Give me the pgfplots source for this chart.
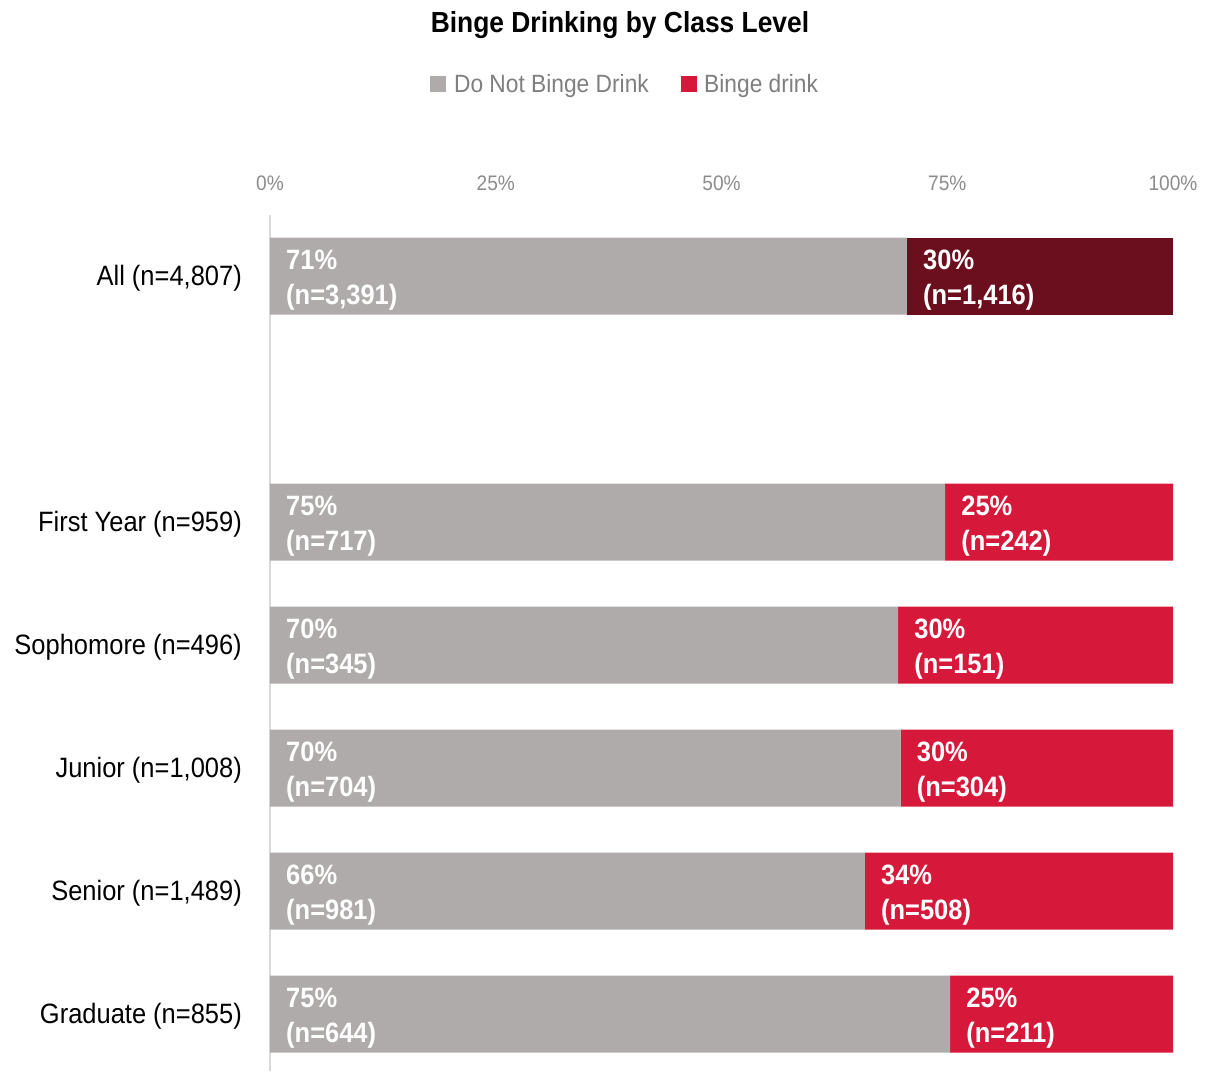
\documentclass[border=0pt]{standalone}
\usepackage{pgfplots}
\pgfplotsset{compat=1.18}
\usepackage{fontspec}
\setmainfont{Liberation Sans}[FakeStretch=0.91]
\definecolor{cgray}{HTML}{AFABAA}
\definecolor{cred}{HTML}{D6193A}
\definecolor{cdark}{HTML}{6B0E1E}
\definecolor{ctick}{HTML}{8C8C8C}
\definecolor{clegend}{HTML}{7F7F7F}
\definecolor{caxis}{HTML}{D9D9D9}
\begin{document}
\begin{tikzpicture}
\path[use as bounding box] (-270pt,0pt) rectangle (936pt,1071pt);
\begin{axis}[
  at={(0pt,0pt)}, anchor=south west, scale only axis,
  width=903pt, height=856pt,
  xmin=0, xmax=100, ymin=-0.463, ymax=6.496,
  axis x line*=top, axis y line*=left,
  x axis line style={draw=none},
  y axis line style={draw=caxis, line width=1.5pt},
  major tick length=0pt,
  xtick={0,25,50,75,100},
  xticklabels={0\%,25\%,50\%,75\%,100\%},
  xticklabel style={font=\fontsize{21}{25}\selectfont, text=ctick, anchor=base, yshift=24pt},
  ytick={0,1,2,3,4,6},
  yticklabels={{Graduate (n=855)},{Senior (n=1,489)},{Junior (n=1,008)},{Sophomore (n=496)},{First Year (n=959)},{All (n=4,807)}},
  yticklabel style={font=\fontsize{28}{34}\selectfont, anchor=east, inner sep=0pt, xshift=-28pt, yshift=-2.5pt},
  xbar stacked, bar width=77pt,
  legend style={at={(0.393,1.153)}, anchor=center, draw=none, fill=none,
    font=\fontsize{25}{30}\selectfont, text=clegend,
    /tikz/every even column/.append style={column sep=30pt}},
  legend columns=2,
  clip=false,
]
\addlegendimage{legend image code/.code={\fill[cgray] (0pt,-7.5pt) rectangle (15pt,7.5pt); \path (22pt,0pt);}}
\addlegendentry{Do Not Binge Drink}
\addlegendimage{legend image code/.code={\fill[cred] (0pt,-7.5pt) rectangle (15pt,7.5pt); \path (21pt,0pt);}}
\addlegendentry{Binge drink}
% Do Not Binge Drink
\addplot[fill=cgray, draw=none, forget plot] coordinates {(75.32,0) (65.88,1) (69.84,2) (69.56,3) (74.77,4) (70.54,6)};
% Binge drink
\addplot[fill=cred, draw=none, forget plot] coordinates {(24.68,0) (34.12,1) (30.16,2) (30.44,3) (25.23,4) (0,6)};
% Binge drink, All
\addplot[fill=cdark, draw=none, forget plot] coordinates {(0,0) (0,1) (0,2) (0,3) (0,4) (29.46,6)};
\end{axis}
\begin{axis}[
  at={(0pt,0pt)}, anchor=south west, scale only axis,
  width=903pt, height=856pt,
  xmin=0, xmax=100, ymin=-0.463, ymax=6.496,
  hide axis, clip=false,
  point meta=explicit symbolic,
  nodes near coords,
  every node near coord/.style={anchor=west, align=left, text=white, inner sep=0pt,
    font=\bfseries\fontsize{28}{35}\selectfont, xshift=16pt, yshift=-4pt},
]
\addplot[draw=none] coordinates {
  (0,6) [{71\%\\(n=3,391)}]
  (0,4) [{75\%\\(n=717)}]
  (0,3) [{70\%\\(n=345)}]
  (0,2) [{70\%\\(n=704)}]
  (0,1) [{66\%\\(n=981)}]
  (0,0) [{75\%\\(n=644)}]
};
\addplot[draw=none] coordinates {
  (70.54,6) [{30\%\\(n=1,416)}]
  (74.77,4) [{25\%\\(n=242)}]
  (69.56,3) [{30\%\\(n=151)}]
  (69.84,2) [{30\%\\(n=304)}]
  (65.88,1) [{34\%\\(n=508)}]
  (75.32,0) [{25\%\\(n=211)}]
};
\end{axis}
\node[font=\bfseries\fontsize{29}{34}\selectfont, anchor=base] at (350pt,1038pt) {Binge Drinking by Class Level};
\end{tikzpicture}
\end{document}
